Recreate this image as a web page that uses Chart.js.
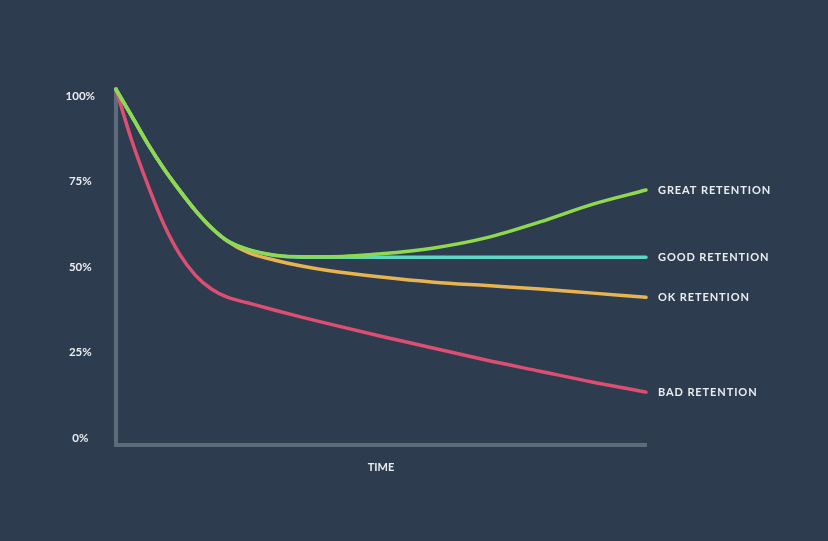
<!DOCTYPE html>
<html>
<head>
<meta charset="utf-8">
<script src="https://cdn.jsdelivr.net/npm/chart.js@4/dist/chart.umd.min.js"></script>
<style>
  html, body { margin: 0; padding: 0; background: #2e3c4f; }
  #wrap { width: 828px; height: 541px; }
</style>
</head>
<body>
<div id="wrap"><canvas id="c" width="828" height="541"></canvas></div>
<script>
// Time (arbitrary units, 0..100)
const timePoints = [0, 3, 6, 9, 12, 15, 18, 21, 25, 30, 35, 40, 50, 60, 70, 80, 90, 100];
// Retention (%)
const greatRetention = [101.9, 94.0, 86.0, 78.8, 72.4, 66.5, 61.5, 57.7, 55.1, 53.5, 53.0, 53.0, 53.9, 55.6, 58.6, 63.2, 68.4, 72.5];
const goodRetention  = [101.9, 94.0, 86.0, 78.8, 72.4, 66.5, 61.5, 57.7, 55.1, 53.4, 52.9, 52.9, 52.9, 52.9, 52.9, 52.9, 52.9, 52.9];
const okRetention    = [101.9, 94.0, 86.0, 78.8, 72.4, 66.5, 61.5, 57.6, 54.2, 52.0, 50.3, 49.0, 47.1, 45.6, 44.6, 43.6, 42.4, 41.2];
const badRetention   = [101.9, 86.8, 74.0, 62.6, 53.8, 47.6, 43.6, 41.2, 39.5, 37.4, 35.4, 33.5, 29.8, 26.3, 22.8, 19.6, 16.4, 13.5];
const seriesNames = ['GREAT RETENTION', 'GOOD RETENTION', 'OK RETENTION', 'BAD RETENTION'];
const yTickValues = [0, 25, 50, 75, 100];
const xAxisTitle = 'TIME';

const colors = ['#8fd94f', '#5ad8c6', '#e8b44f', '#dd4f72'];
const allSeries = [greatRetention, goodRetention, okRetention, badRetention];
const textColor = '#e9edf1';
const axisColor = '#5d6b7b';
const fontFamily = 'Lato, "Open Sans", sans-serif';

const toPoints = arr => arr.map((v, i) => ({ x: timePoints[i], y: v }));

// dataset 0 is drawn on top in Chart.js
const datasets = allSeries.map((arr, i) => ({
  label: seriesNames[i],
  data: toPoints(arr),
  borderColor: colors[i],
  backgroundColor: colors[i],
  borderWidth: 3.5,
  borderCapStyle: 'round',
  borderJoinStyle: 'round',
  pointRadius: 0,
  cubicInterpolationMode: 'monotone',
  fill: false,
  clip: false
}));

const endLabels = {
  id: 'endLabels',
  afterDatasetsDraw(chart) {
    const ctx = chart.ctx;
    const xs = chart.scales.x, ys = chart.scales.y;
    ctx.save();
    ctx.font = 'bold 11px ' + fontFamily;
    ctx.fillStyle = textColor;
    ctx.textAlign = 'left';
    ctx.textBaseline = 'middle';
    if ('letterSpacing' in ctx) ctx.letterSpacing = '0.9px';
    chart.data.datasets.forEach(ds => {
      const last = ds.data[ds.data.length - 1];
      const px = xs.getPixelForValue(last.x);
      const py = ys.getPixelForValue(last.y);
      ctx.fillText(ds.label, px + 12, py + 0.5);
    });
    ctx.restore();
  }
};

new Chart(document.getElementById('c'), {
  type: 'line',
  data: { datasets },
  plugins: [endLabels],
  options: {
    responsive: false,
    animation: false,
    devicePixelRatio: 1,
    layout: { padding: { left: 40, right: 182, top: 89, bottom: 67 } },
    plugins: { legend: { display: false }, tooltip: { enabled: false } },
    scales: {
      x: {
        type: 'linear',
        min: 0,
        max: 100,
        grid: { display: false, drawTicks: false },
        border: { display: true, color: axisColor, width: 4 },
        ticks: { display: false },
        title: {
          display: true,
          text: xAxisTitle,
          color: textColor,
          font: { family: fontFamily, size: 11, weight: 'bold' },
          padding: { top: 15.6, bottom: 0 }
        }
      },
      y: {
        type: 'linear',
        min: -2,
        max: 102,
        grid: { display: false, drawTicks: false },
        border: { display: true, color: axisColor, width: 4 },
        afterBuildTicks: s => { s.ticks = yTickValues.map(v => ({ value: v })); },
        afterFit: s => { s.width = 76; },
        ticks: {
          color: textColor,
          crossAlign: 'center',
          padding: 21,
          font: { family: fontFamily, size: 11.5, weight: 'bold' },
          callback: v => v + '%'
        }
      }
    }
  }
});
</script>
</body>
</html>
